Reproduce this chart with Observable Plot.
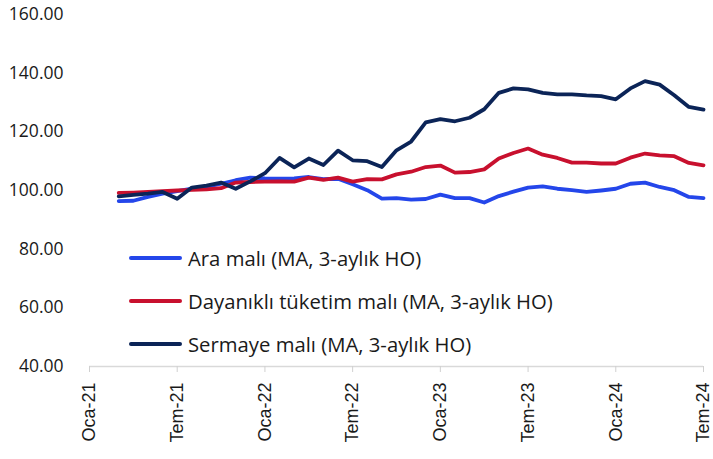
<!DOCTYPE html>
<html><head><meta charset="utf-8">
<script src="https://cdn.jsdelivr.net/npm/d3@7"></script>
<script src="https://cdn.jsdelivr.net/npm/@observablehq/plot@0.6"></script>
<style>
body{margin:0;background:#fff;font-family:"Open Sans",sans-serif;}
#wrap{position:relative;width:713px;height:459px;}
#legend{position:absolute;left:129px;top:236px;font-size:20.3px;color:#1a1a1a;}
.item{display:flex;align-items:center;height:43px;white-space:nowrap;}
.sw{width:53px;height:4px;margin-right:6px;border-radius:2px}
</style></head>
<body><div id="wrap"><div id="chart"></div><div id="legend"></div></div>
<script>
const trMonths = ["Oca","Şub","Mar","Nis","May","Haz","Tem","Ağu","Eyl","Eki","Kas","Ara"];
const tickLabels = ["Oca-21","Tem-21","Oca-22","Tem-22","Oca-23","Tem-23","Oca-24","Tem-24"];
const yTicks = [40,60,80,100,120,140,160];
const seriesNames = ["Ara malı (MA, 3-aylık HO)","Dayanıklı tüketim malı (MA, 3-aylık HO)","Sermaye malı (MA, 3-aylık HO)"];
const colors = ["#2446ea","#c8102e","#0b2457"];

// Mar-21 .. Tem-24
const ara = [96.4,96.5,97.8,98.9,99.8,100.6,101.2,102.3,103.5,104.4,104.1,
  104.0,104.1,104.6,103.9,104.0,102.1,100.1,97.2,97.4,96.9,
  97.1,98.6,97.4,97.4,95.9,98.1,99.6,101.0,101.4,100.6,100.1,99.5,100.0,100.6,102.3,102.7,101.2,100.1,97.8,97.4];
const dayanikli = [99.2,99.3,99.5,99.8,100.0,100.2,100.4,100.8,102.7,102.9,103.0,
  103.1,103.0,104.4,103.6,104.4,103.0,103.9,103.8,105.5,106.4,
  108.0,108.5,106.1,106.3,107.2,110.9,112.8,114.3,112.2,111.1,109.5,109.5,109.2,109.2,111.2,112.6,112.0,111.7,109.4,108.6];
const sermaye = [98.0,98.5,98.9,99.5,97.2,101.0,101.7,102.7,100.6,103.1,105.9,
  111.1,107.9,110.9,108.7,113.6,110.3,110.0,108.0,113.7,116.7,
  123.2,124.3,123.6,124.8,127.7,133.3,134.8,134.5,133.3,132.8,132.8,132.4,132.2,131.1,134.8,137.3,136.1,132.5,128.5,127.6];

const allMonths = [];
for (let y = 21; y <= 24; y++) for (let m = 0; m < 12; m++) {
  const lab = trMonths[m] + "-" + y;
  allMonths.push(lab);
  if (lab === "Tem-24") break;
}
const dataMonths = allMonths.slice(allMonths.indexOf("Mar-21"));
const seriesValues = [ara, dayanikli, sermaye];
const rows = [];
seriesValues.forEach((vals, s) => vals.forEach((v, i) => rows.push({month: dataMonths[i], value: v, series: seriesNames[s]})));

const chart = Plot.plot({
  width: 713, height: 459,
  marginLeft: 89, marginRight: 10, marginTop: 14, marginBottom: 93,
  style: {fontFamily: "Open Sans", fontSize: "17px", color: "#1a1a1a", background: "#fff", overflow: "visible"},
  x: {type: "point", domain: allMonths, padding: 0, round: false},
  y: {domain: [40, 160]},
  color: {domain: seriesNames, range: colors},
  marks: [
    Plot.ruleY([40], {stroke: "#d9d9d9", strokeWidth: 1.3}),
    Plot.axisX({ticks: tickLabels, tickRotate: -90, tickSize: 6, tickPadding: 10, stroke: "#d0d0d0", fill: "#1a1a1a", label: null, fontSize: 18, fontFamily: "Liberation Sans"}),
    Plot.axisY({ticks: yTicks, tickFormat: d3.format(".2f"), tickSize: 0, tickPadding: 26, label: null, fontSize: 17.5, fill: "#1a1a1a"}),
    Plot.line(rows, {x: "month", y: "value", stroke: "series", strokeWidth: 3.8, strokeLinejoin: "round", strokeLinecap: "round"})
  ]
});
document.getElementById("chart").appendChild(chart);

const legend = document.getElementById("legend");
seriesNames.forEach((n, i) => {
  const it = document.createElement("div"); it.className = "item";
  const sw = document.createElement("div"); sw.className = "sw"; sw.style.background = colors[i];
  const tx = document.createElement("span"); tx.textContent = n;
  it.appendChild(sw); it.appendChild(tx); legend.appendChild(it);
});
</script>
</body></html>
